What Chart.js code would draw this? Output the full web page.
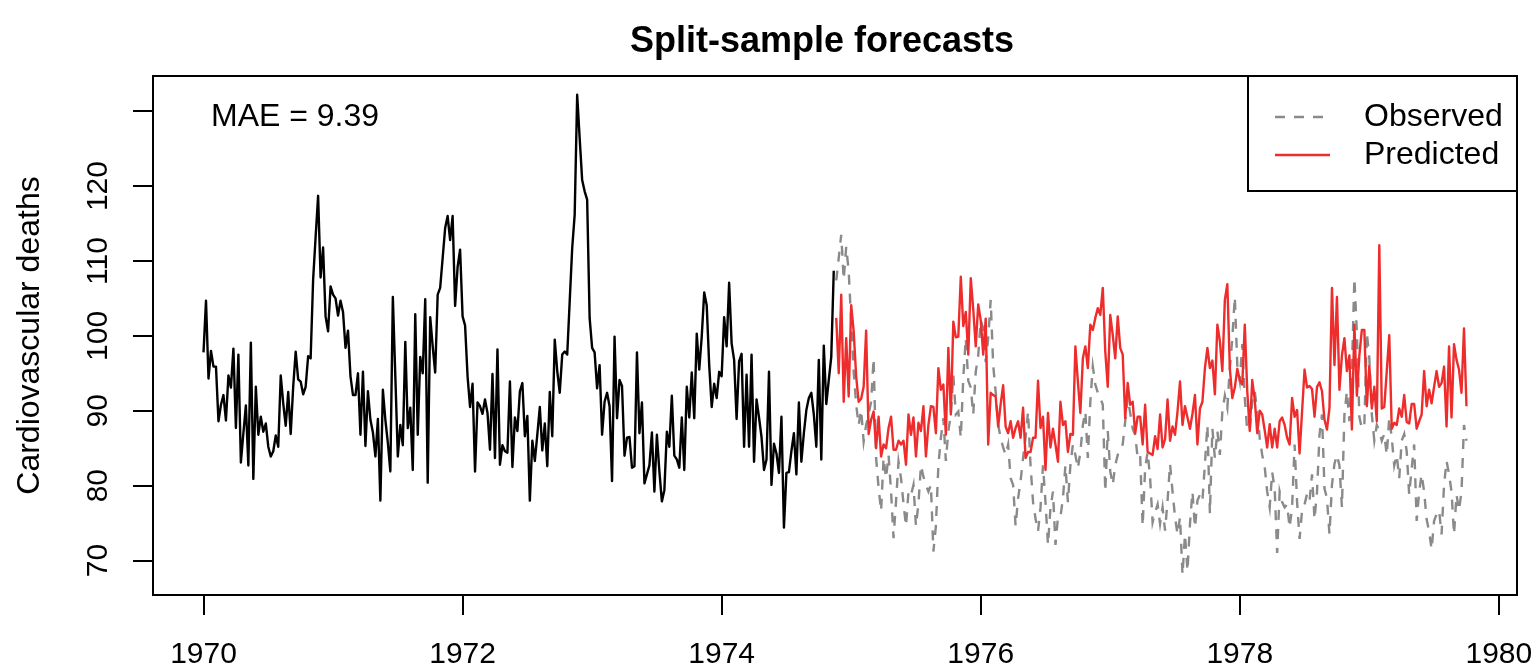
<!DOCTYPE html>
<html>
<head>
<meta charset="utf-8">
<script src="https://cdn.jsdelivr.net/npm/chart.js@4/dist/chart.umd.min.js"></script>
<style>
  html, body { margin: 0; padding: 0; background: #fff; }
  #c { display: block; }
</style>
</head>
<body>
<canvas id="c" width="1536" height="672"></canvas>
<script>
// ---- data (weekly series, start 1970, 52 obs per year) ----
const START_YEAR = 1970;
const FREQ = 52;

const trainValues = [
  97.8,104.7,94.3,98.0,95.9,95.9,88.6,90.8,92.1,88.7,
  94.7,93.1,98.3,87.7,97.5,83.1,87.0,90.7,82.7,99.1,
  80.9,93.2,86.8,89.2,87.2,88.3,85.2,83.9,84.6,86.7,
  85.2,94.7,91.0,88.0,92.5,86.9,93.2,97.9,94.2,93.9,
  92.2,93.2,97.3,97.0,107.5,113.2,118.7,107.8,111.8,102.6,
  100.6,106.6,105.5,105.0,102.7,104.7,103.2,98.4,100.7,94.6,
  92.1,92.1,95.0,86.8,95.2,85.3,92.6,88.8,87.1,83.9,
  88.9,78.0,92.8,88.8,85.7,81.9,105.2,94.6,83.9,88.1,
  85.4,99.2,87.7,90.4,82.1,102.9,86.8,97.2,95.0,104.9,
  80.4,102.5,98.6,95.1,105.5,106.4,110.4,114.4,116.0,112.8,
  116.0,104.0,109.2,111.5,102.6,101.4,94.6,90.5,93.6,81.9,
  91.1,90.6,89.6,91.5,89.7,84.8,94.9,83.7,98.2,82.8,
  85.4,84.6,84.4,93.9,82.5,89.1,87.3,92.6,93.7,86.6,
  89.3,78.0,86.0,83.3,86.8,90.5,84.7,88.3,82.6,92.5,
  86.6,99.5,95.3,92.4,97.5,97.9,97.5,104.6,111.7,116.2,
  132.2,126.4,120.8,119.3,118.2,102.4,98.4,97.8,93.0,96.1,
  86.8,91.2,92.4,90.6,80.6,99.9,89.0,94.1,93.3,84.0,
  86.4,86.5,82.4,82.6,97.8,87.0,91.1,80.3,81.5,82.7,
  87.1,79.2,86.8,81.9,77.9,79.4,87.2,85.2,92.0,84.0,
  83.5,82.4,89.1,82.1,93.2,89.1,95.1,89.0,100.3,95.5,
  99.9,105.8,104.1,96.1,90.5,93.6,91.7,95.2,94.6,102.5,
  98.6,107.1,99.0,96.8,88.9,96.6,97.6,85.2,94.8,85.2,
  97.5,83.2,91.5,89.1,86.5,82.1,83.5,95.2,80.1,85.6,
  84.3,81.7,89.2,74.4,81.7,81.8,84.6,87.0,81.5,91.1,
  83.2,87.0,90.1,91.7,92.4,89.5,85.2,96.8,83.5,98.7,
  90.9,94.1,97.2,108.7
];

const observedValues = [
  107.4,110.4,113.5,107.5,111.9,108.6,101.9,95.2,90.8,88.1,
  90.1,85.9,88.1,89.6,91.2,97.0,83.7,79.7,76.6,83.7,
  81.0,84.1,79.2,73.0,77.9,83.2,81.0,77.6,74.6,79.2,
  78.7,80.1,74.6,77.6,82.7,81.2,80.1,79.2,80.1,71.2,
  74.6,82.7,86.4,89.0,83.3,87.3,89.5,94.8,89.5,89.9,
  86.4,94.4,99.7,94.0,93.1,89.5,95.2,97.4,102.1,101.0,
  96.5,99.7,104.8,96.1,92.5,88.1,86.4,85.1,84.1,85.5,
  81.0,80.1,74.6,78.3,80.6,83.7,86.4,89.9,82.7,77.8,
  75.6,73.9,77.1,82.7,77.8,72.1,77.0,79.2,72.1,75.8,
  75.8,78.3,82.7,77.8,82.7,85.5,84.1,82.3,84.5,88.1,
  89.9,83.7,91.2,95.9,93.5,92.4,91.7,90.8,79.2,87.3,
  81.9,80.1,82.7,84.1,85.0,85.5,88.6,91.7,89.7,87.6,
  86.8,83.7,84.1,74.6,82.3,84.5,81.0,75.1,76.4,77.5,
  74.9,77.1,74.0,78.0,82.9,79.2,75.8,73.5,75.8,68.1,
  73.5,68.6,74.9,79.2,74.4,78.0,78.8,78.0,82.9,88.1,
  76.3,87.6,83.7,87.3,84.1,89.9,92.0,90.4,95.7,99.7,
  105.2,96.1,94.0,98.9,91.7,87.3,87.6,91.2,92.6,89.9,
  86.4,84.1,82.5,79.2,77.1,81.8,79.6,71.0,79.2,77.8,
  77.1,77.5,74.4,77.1,85.5,77.8,72.9,76.7,77.5,78.9,
  78.0,81.5,75.5,79.2,86.8,89.5,79.6,78.3,73.5,80.1,
  82.9,84.1,82.7,77.1,89.5,92.6,88.6,95.3,107.7,100.4,
  89.2,87.6,88.1,100.4,97.0,89.5,86.0,88.1,87.3,86.0,
  86.9,84.1,89.1,86.4,82.7,84.1,81.0,86.0,86.9,84.6,
  78.8,82.3,85.5,75.3,79.2,81.5,79.2,75.5,73.9,71.5,
  75.3,76.2,76.7,73.5,80.1,83.3,81.5,79.2,73.5,78.8,
  76.7,79.2,88.1,86.0
];

const predictedValues = [
  102.4,95.0,105.5,91.2,99.7,91.9,104.1,100.6,94.6,91.2,
  91.6,93.2,100.7,86.9,88.8,89.9,85.0,89.2,83.9,85.5,
  85.0,87.7,89.2,84.8,84.8,86.0,85.5,86.0,82.8,89.5,
  86.8,89.1,83.9,88.4,87.3,90.6,83.9,88.1,90.6,90.5,
  87.0,95.7,92.8,93.5,86.8,98.4,89.5,101.9,99.8,99.9,
  107.9,101.3,103.2,97.5,107.7,103.5,98.6,104.2,102.1,97.5,
  102.3,85.5,92.4,92.1,91.9,87.9,90.9,93.4,87.9,87.0,
  88.6,86.4,87.7,88.6,86.4,90.4,83.7,84.5,84.5,86.4,
  86.4,94.0,87.7,89.2,82.1,89.7,85.1,87.6,85.5,83.2,
  91.2,88.1,88.6,84.5,86.9,86.8,98.6,93.9,89.7,97.0,
  98.6,95.7,101.5,100.8,102.4,103.7,102.8,106.4,97.9,93.2,
  102.8,100.1,97.0,102.6,98.4,97.5,89.0,93.7,90.8,91.2,
  87.0,89.2,89.2,85.5,90.8,84.5,84.3,84.1,86.6,84.9,
  89.5,85.1,86.2,91.5,86.0,87.9,86.8,89.9,93.9,88.1,
  90.6,89.1,87.6,89.6,92.1,85.5,90.3,91.2,95.7,98.4,
  95.7,96.7,92.2,101.5,99.3,95.3,104.8,106.9,95.7,91.7,
  93.1,95.6,94.1,93.5,101.5,92.6,87.3,94.1,91.5,87.0,
  90.0,89.5,87.4,85.1,88.2,85.1,87.6,85.1,88.6,89.1,
  88.1,86.4,85.5,91.7,89.2,90.1,84.3,89.9,95.5,93.1,
  93.3,92.9,89.2,93.2,93.8,92.6,88.8,87.5,90.4,106.4,
  96.1,105.2,92.8,97.4,99.7,95.3,97.4,87.5,101.5,92.0,
  97.4,100.8,100.8,90.6,96.0,90.3,93.2,88.6,112.1,90.3,
  90.5,95.3,100.1,87.6,88.4,88.1,90.3,89.2,92.1,88.5,
  88.3,90.9,90.9,87.6,88.6,89.5,95.3,90.6,92.8,91.0,
  93.2,95.3,93.2,93.7,95.9,87.9,98.6,89.1,98.9,96.8,
  95.5,92.4,101.0,90.6
];

const xTicks = [1970, 1972, 1974, 1976, 1978, 1980];
const yTicks = [70, 80, 90, 100, 110, 120, 130];
const yTickLabels = ['70', '80', '90', '100', '110', '120', ''];

const titleText = 'Split-sample forecasts';
const yAxisTitle = 'Cardiovascular deaths';
const maeText = 'MAE = 9.39';
const legendLabels = ['Observed', 'Predicted'];

// ---- styling ----
const FONT = '"Liberation Sans", Arial, Helvetica, sans-serif';
const COL_TRAIN = '#000000';
const COL_OBS = '#8a8a8a';
const COL_PRED = '#ee2c2c';
const LINE_W = 2.4;
const DASH = [10, 9];

function toPoints(values, offset) {
  return values.map((v, i) => ({ x: START_YEAR + (offset + i) / FREQ, y: v }));
}
const testOffset = trainValues.length;

const rPlugin = {
  id: 'rstyle',
  afterDraw(chart) {
    const { ctx, chartArea: a, scales } = chart;
    const ys = scales.y;
    ctx.save();
    // plot box
    ctx.strokeStyle = '#000';
    ctx.lineWidth = 2;
    ctx.setLineDash([]);
    ctx.strokeRect(a.left, a.top, a.right - a.left, a.bottom - a.top);

    // rotated y tick labels (R style)
    ctx.fillStyle = '#000';
    ctx.font = '30px ' + FONT;
    ctx.textAlign = 'center';
    ctx.textBaseline = 'middle';
    ys.ticks.forEach((t) => {
      const idx = yTicks.indexOf(t.value);
      const lab = idx >= 0 ? yTickLabels[idx] : '';
      if (!lab) return;
      ctx.save();
      ctx.translate(a.left - 54, ys.getPixelForValue(t.value));
      ctx.rotate(-Math.PI / 2);
      ctx.fillText(lab, 0, 0);
      ctx.restore();
    });

    // main title
    ctx.font = 'bold 36px ' + FONT;
    ctx.textAlign = 'center';
    ctx.textBaseline = 'middle';
    ctx.fillText(titleText, (a.left + a.right) / 2 - 13, 42);

    // MAE annotation
    ctx.font = '32px ' + FONT;
    ctx.textAlign = 'left';
    ctx.fillText(maeText, a.left + 58, a.top + 41);

    // legend (top right)
    const lw = 269, lh = 115;
    const lx = a.right - lw, ly = a.top;
    ctx.lineWidth = 2;
    ctx.strokeStyle = '#000';
    ctx.strokeRect(lx, ly, lw, lh);
    const rows = [
      { label: legendLabels[0], color: COL_OBS, dash: DASH },
      { label: legendLabels[1], color: COL_PRED, dash: [] }
    ];
    rows.forEach((r, k) => {
      const yy = ly + 41 + k * 38;
      ctx.beginPath();
      ctx.strokeStyle = r.color;
      ctx.lineWidth = LINE_W;
      ctx.setLineDash(r.dash);
      ctx.moveTo(lx + 27, yy);
      ctx.lineTo(lx + 82, yy);
      ctx.stroke();
      ctx.setLineDash([]);
      ctx.fillStyle = '#000';
      ctx.textAlign = 'left';
      ctx.fillText(r.label, lx + 116, yy);
    });
    ctx.restore();
  }
};

new Chart(document.getElementById('c'), {
  type: 'line',
  data: {
    datasets: [
      {
        label: 'Predicted',
        data: toPoints(predictedValues, testOffset),
        borderColor: COL_PRED,
        borderWidth: LINE_W,
        pointRadius: 0,
        tension: 0,
        fill: false,
        borderJoinStyle: 'round',
        order: 0
      },
      {
        label: 'Observed',
        data: toPoints(observedValues, testOffset),
        borderColor: COL_OBS,
        borderWidth: LINE_W,
        borderDash: DASH,
        pointRadius: 0,
        tension: 0,
        fill: false,
        order: 1
      },
      {
        label: 'Training',
        data: toPoints(trainValues, 0),
        borderColor: COL_TRAIN,
        borderWidth: LINE_W,
        pointRadius: 0,
        tension: 0,
        fill: false,
        borderJoinStyle: 'round',
        order: 2
      }
    ]
  },
  options: {
    responsive: false,
    animation: false,
    devicePixelRatio: 1,
    layout: { padding: { top: 76, right: 19, left: 0, bottom: 0 } },
    plugins: {
      legend: { display: false },
      tooltip: { enabled: false },
      title: { display: false }
    },
    scales: {
      x: {
        type: 'linear',
        min: 1969.61,
        max: 1980.14,
        afterBuildTicks: (s) => { s.ticks = xTicks.map((v) => ({ value: v })); },
        afterFit: (s) => { s.height = 77; s.paddingLeft = 0; s.paddingRight = 0; },
        grid: { drawOnChartArea: false, drawTicks: true, tickLength: 20, color: '#000', lineWidth: 2 },
        border: { display: false },
        ticks: {
          autoSkip: false,
          maxRotation: 0,
          minRotation: 0,
          padding: 22,
          color: '#000',
          font: { family: FONT, size: 30 },
          callback: (v) => String(v)
        }
      },
      y: {
        type: 'linear',
        min: 65.4,
        max: 134.7,
        afterBuildTicks: (s) => { s.ticks = yTicks.map((v) => ({ value: v })); },
        afterFit: (s) => { s.width = 153; s.paddingTop = 0; s.paddingBottom = 0; },
        grid: { drawOnChartArea: false, drawTicks: true, tickLength: 20, color: '#000', lineWidth: 2 },
        border: { display: false },
        ticks: { display: false },
        title: {
          display: true,
          text: yAxisTitle,
          color: '#000',
          font: { family: FONT, size: 32 },
          padding: { top: 11, bottom: 0 }
        }
      }
    }
  },
  plugins: [rPlugin]
});
</script>
</body>
</html>
